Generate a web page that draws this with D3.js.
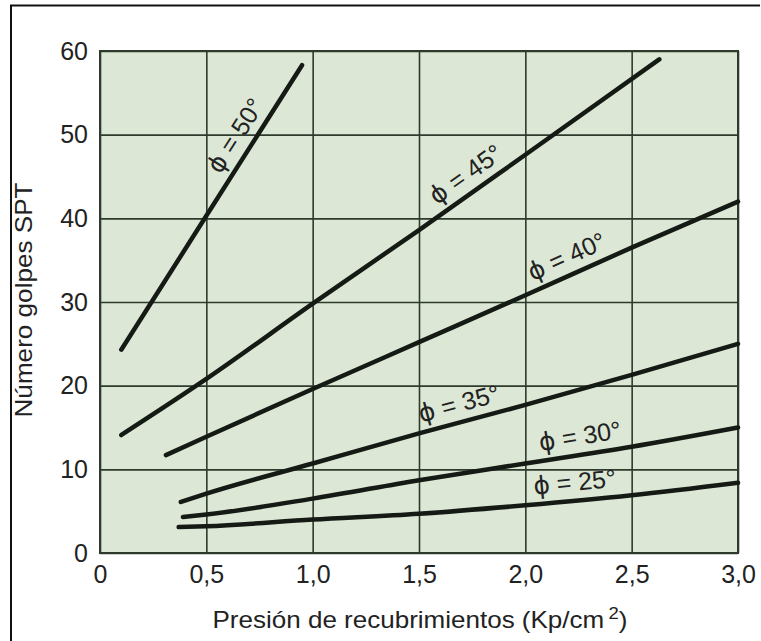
<!DOCTYPE html>
<html>
<head>
<meta charset="utf-8">
<style>
  body { margin: 0; background: #fff; }
  svg text { font-family: "Liberation Sans", Arial, sans-serif; fill: #222; }
  .phi { font-family: "DejaVu Sans", sans-serif; }
</style>
</head>
<body>
<svg width="761" height="641"></svg>
<script src="https://d3js.org/d3.v7.min.js"></script>
<script>

// ticks
var xTicks = [0, 0.5, 1, 1.5, 2, 2.5, 3];
var xTickLabels = ["0", "0,5", "1,0", "1,5", "2,0", "2,5", "3,0"];
var yTicks = [0, 10, 20, 30, 40, 50, 60];

// friction angle of each curve
var angles = [50, 45, 40, 35, 30, 25];

// presion (x) / golpes SPT (y)
var presion50 = [0.10, 0.50, 0.95];
var golpes50  = [24.3, 40.3, 58.3];
var presion45 = [0.10, 0.50, 1.00, 1.50, 2.00, 2.63];
var golpes45  = [14.1, 20.8, 29.8, 38.6, 47.6, 59.0];
var presion40 = [0.31, 0.50, 1.00, 1.50, 2.00, 2.50, 3.00];
var golpes40  = [11.7, 13.9, 19.6, 25.2, 30.8, 36.5, 42.0];
var presion35 = [0.38, 0.50, 1.00, 1.50, 2.00, 2.50, 3.00];
var golpes35  = [6.1, 7.1, 10.7, 14.3, 17.7, 21.3, 25.0];
var presion30 = [0.39, 0.50, 1.00, 1.50, 2.00, 2.50, 3.00];
var golpes30  = [4.3, 4.6, 6.5, 8.7, 10.7, 12.7, 15.0];
var presion25 = [0.37, 0.50, 1.00, 1.50, 2.00, 2.50, 3.00];
var golpes25  = [3.1, 3.2, 4.0, 4.7, 5.7, 6.9, 8.4];

var presion = [presion50, presion45, presion40, presion35, presion30, presion25];
var golpes  = [golpes50, golpes45, golpes40, golpes35, golpes30, golpes25];

// where (in presion units) each label sits along its curve
var labelAt = [0.71, 1.77, 2.23, 1.71, 2.27, 2.24];

var svg = d3.select("svg");

// outer frame
svg.append("path")
    .attr("d", "M11,641 V5.5 H760")
    .attr("fill", "none")
    .attr("stroke", "#111")
    .attr("stroke-width", 2);

var x = d3.scaleLinear().domain([0, 3]).range([100, 738]);
var y = d3.scaleLinear().domain([0, 60]).range([553, 51]);

// plot background
svg.append("rect")
    .attr("x", x(0)).attr("y", y(60))
    .attr("width", x(3) - x(0)).attr("height", y(0) - y(60))
    .attr("fill", "#dce8d5");

// grid + x labels
var gx = svg.append("g")
    .attr("transform", "translate(0," + y(0) + ")")
    .call(d3.axisBottom(x).tickValues(xTicks)
      .tickSize(-(y(0) - y(60))).tickPadding(12)
      .tickFormat(function(d, i) { return xTickLabels[i]; }));
gx.select(".domain").remove();
gx.selectAll("line").attr("stroke", "#2e3a2c").attr("stroke-width", 1.6);
gx.selectAll("text").style("font-size", "25px").attr("fill", "#262626");

var gy = svg.append("g")
    .attr("transform", "translate(" + x(0) + ",0)")
    .call(d3.axisLeft(y).tickValues(yTicks)
      .tickSize(-(x(3) - x(0))).tickPadding(12));
gy.select(".domain").remove();
gy.selectAll("line").attr("stroke", "#2e3a2c").attr("stroke-width", 1.6);
gy.selectAll("text").style("font-size", "25px").attr("fill", "#262626");

// plot border
svg.append("rect")
    .attr("x", x(0)).attr("y", y(60))
    .attr("width", x(3) - x(0)).attr("height", y(0) - y(60))
    .attr("fill", "none")
    .attr("stroke", "#2e3a2c")
    .attr("stroke-width", 2);

// curves
var line = d3.line()
    .x(function(d) { return x(d[0]); })
    .y(function(d) { return y(d[1]); })
    .curve(d3.curveMonotoneX);

angles.forEach(function(a, i) {
  var pts = presion[i].map(function(p, j) { return [p, golpes[i][j]]; });

  svg.append("path")
      .datum(pts)
      .attr("fill", "none")
      .attr("stroke", "#151a15")
      .attr("stroke-width", 4.5)
      .attr("stroke-linecap", "round")
      .attr("d", line);

  // label along the curve
  var t = labelAt[i];
  var k = d3.bisectRight(presion[i], t);
  k = Math.max(1, Math.min(k, pts.length - 1));
  var p0 = pts[k - 1], p1 = pts[k];
  var f = (t - p0[0]) / (p1[0] - p0[0]);
  var gv = p0[1] + f * (p1[1] - p0[1]);
  var ang = Math.atan2(y(p1[1]) - y(p0[1]), x(p1[0]) - x(p0[0])) * 180 / Math.PI;

  var txt = svg.append("text")
      .attr("transform", "translate(" + x(t) + "," + y(gv) + ") rotate(" + ang + ")")
      .attr("y", -10)
      .attr("text-anchor", "middle")
      .style("font-size", "25px")
      .attr("fill", "#262626");
  txt.append("tspan").attr("class", "phi").text("\u03D5");
  txt.append("tspan").text(" = " + a + "°");
});

// axis titles
svg.append("text")
    .attr("x", 420)
    .attr("y", 628)
    .attr("text-anchor", "middle")
    .attr("textLength", 415)
    .attr("lengthAdjust", "spacingAndGlyphs")
    .style("font-size", "24px")
    .text("Presión de recubrimientos (Kp/cm")
  .append("tspan")
    .attr("dx", 4)
    .attr("baseline-shift", "super")
    .style("font-size", "17px")
    .text("2")
  .select(function() { return this.parentNode; })
  .append("tspan")
    .text(")");

svg.append("text")
    .attr("transform", "translate(32,300) rotate(-90)")
    .attr("text-anchor", "middle")
    .attr("textLength", 235)
    .attr("lengthAdjust", "spacingAndGlyphs")
    .style("font-size", "24px")
    .text("Número golpes SPT");

</script>
</body>
</html>
